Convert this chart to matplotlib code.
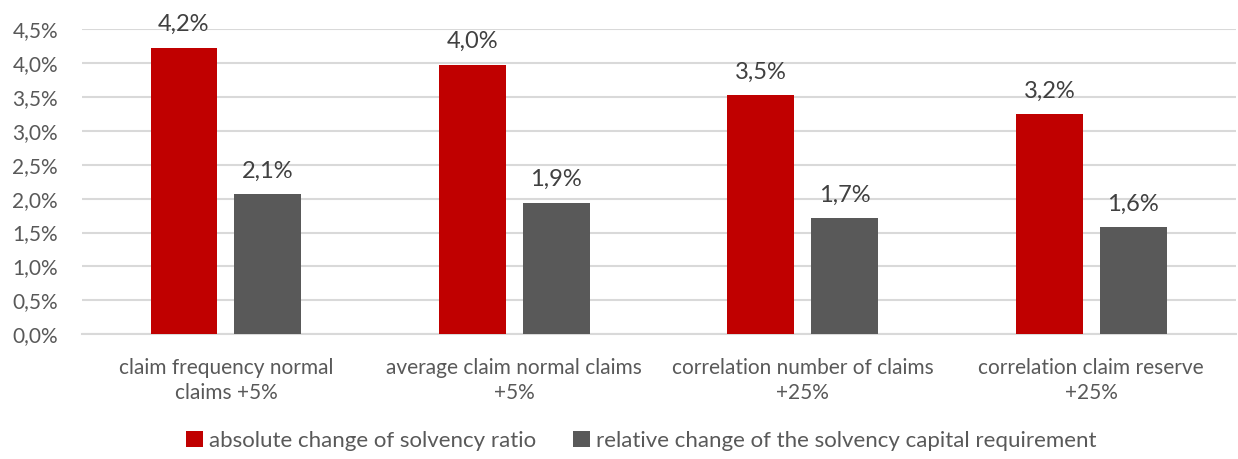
import numpy as np
import matplotlib.pyplot as plt

plt.rcParams['font.family'] = ['Lato', 'DejaVu Sans']

categories = ['claim frequency normal\nclaims +5%', 'average claim normal claims\n+5%',
              'correlation number of claims\n+25%', 'correlation claim reserve\n+25%']
absolute_change = [4.23, 3.98, 3.53, 3.25]
relative_change = [2.07, 1.94, 1.71, 1.58]
abs_labels = ['4,2%', '4,0%', '3,5%', '3,2%']
rel_labels = ['2,1%', '1,9%', '1,7%', '1,6%']
yticks = np.arange(0, 4.51, 0.5)

red = '#c00000'
gray = '#595959'
txt = '#595959'

fig = plt.figure(figsize=(12.38, 4.59), dpi=100)
ax = fig.add_axes([0.066, 0.272, 0.932, 0.664])

x = np.arange(len(categories))
w = 0.232
off = (w + 0.059) / 2
b1 = ax.bar(x - off, absolute_change, w, color=red, label='absolute change of solvency ratio', zorder=3)
b2 = ax.bar(x + off, relative_change, w, color=gray, label='relative change of the solvency capital requirement', zorder=3)

for bars, labs in ((b1, abs_labels), (b2, rel_labels)):
    for b, l in zip(bars, labs):
        ax.annotate(l, (b.get_x() + b.get_width() / 2, b.get_height()), xytext=(0, 9),
                    textcoords='offset points', ha='center', va='bottom', fontsize=17, color='#404040')

ax.set_xlim(-0.5, len(categories) - 0.5)
ax.set_ylim(0, 4.5)
ax.set_yticks(yticks)
ax.set_yticklabels([f'{v:.1f}%'.replace('.', ',') for v in yticks])
ax.set_xticks(x)
ax.set_xticklabels(categories, linespacing=1.35)
ax.tick_params(axis='both', length=0, labelsize=15, colors=txt)
ax.tick_params(axis='x', pad=17)
ax.tick_params(axis='y', pad=17)
ax.grid(axis='y', color='#d9d9d9', linewidth=1.5, zorder=0)
for s in ['top', 'right', 'left']:
    ax.spines[s].set_visible(False)
ax.spines['bottom'].set_color('#d9d9d9')
ax.spines['bottom'].set_linewidth(1.5)

fig.legend(handles=[b1, b2], loc='center', bbox_to_anchor=(0.518, 0.04), ncol=2, frameon=False,
           fontsize=16, handlelength=0.75, handleheight=0.75, handletextpad=0.25, columnspacing=1.7,
           labelcolor=txt)

plt.savefig('out.png', dpi=100)
